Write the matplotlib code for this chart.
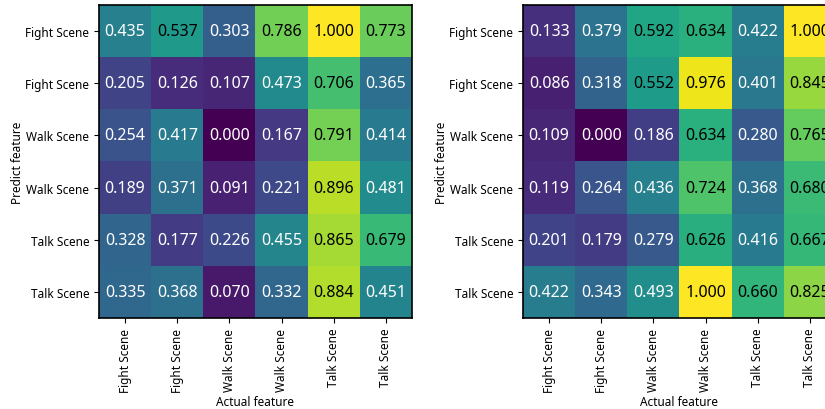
import matplotlib
matplotlib.use("Agg")
import matplotlib.pyplot as plt
import numpy as np

plt.rcParams["font.family"] = ["Noto Sans", "Noto Sans CJK JP", "DejaVu Sans"]

row_labels = ["Fight Scene", "Fight Scene", "Walk Scene", "Walk Scene", "Talk Scene", "Talk Scene"]
col_labels = ["Fight Scene", "Fight Scene", "Walk Scene", "Walk Scene", "Talk Scene", "Talk Scene"]

left_values = [
    [0.435, 0.537, 0.303, 0.786, 1.000, 0.773],
    [0.205, 0.126, 0.107, 0.473, 0.706, 0.365],
    [0.254, 0.417, 0.000, 0.167, 0.791, 0.414],
    [0.189, 0.371, 0.091, 0.221, 0.896, 0.481],
    [0.328, 0.177, 0.226, 0.455, 0.865, 0.679],
    [0.335, 0.368, 0.070, 0.332, 0.884, 0.451],
]
right_values = [
    [0.133, 0.379, 0.592, 0.634, 0.422, 1.000],
    [0.086, 0.318, 0.552, 0.976, 0.401, 0.845],
    [0.109, 0.000, 0.186, 0.634, 0.280, 0.765],
    [0.119, 0.264, 0.436, 0.724, 0.368, 0.680],
    [0.201, 0.179, 0.279, 0.626, 0.416, 0.667],
    [0.422, 0.343, 0.493, 1.000, 0.660, 0.825],
]


def draw(ax, values):
    m = np.array(values)
    ax.imshow(m, cmap="viridis", vmin=0, vmax=1, aspect="auto")
    for i in range(m.shape[0]):
        for j in range(m.shape[1]):
            v = m[i, j]
            ax.text(j, i, f"{v:.3f}", ha="center", va="center",
                    color="black" if v > 0.5 else "white", fontsize=11.5)
    ax.set_xticks(range(len(col_labels)))
    ax.set_xticklabels(col_labels, rotation=90, fontsize=8.5)
    ax.set_yticks(range(len(row_labels)))
    ax.set_yticklabels(row_labels, fontsize=8.5)
    ax.set_xlabel("Actual feature", fontsize=8.5, labelpad=2)
    ax.set_ylabel("Predict feature", fontsize=8.5, labelpad=1)
    for s in ax.spines.values():
        s.set_linewidth(1.2)


fig = plt.figure(figsize=(8.25, 4.1), dpi=100)
W, H = 825, 410
ax1 = fig.add_axes([99 / W, 1 - 319 / H, 313 / W, 313 / H])
ax2 = fig.add_axes([523 / W, 1 - 319 / H, 313 / W, 313 / H])
draw(ax1, left_values)
draw(ax2, right_values)

fig.savefig("out.png", dpi=100)
